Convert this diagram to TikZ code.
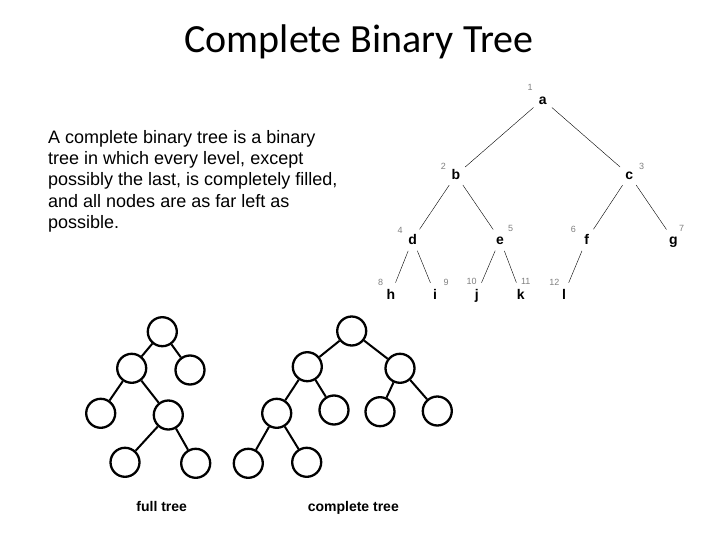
\documentclass[tikz,border=0pt]{standalone}
\usepackage{fontspec}
\setmainfont{Liberation Sans}
\newfontfamily\titlefont{Carlito}
\usepackage{tikz}

\begin{document}
\begin{tikzpicture}[x=1pt,y=-1pt,
  letter/.style={circle,inner sep=0pt,minimum size=24pt,text height=10pt,text depth=0pt,font=\fontsize{14}{14}\selectfont\bfseries},
  idx/.style={inner sep=0pt,text=gray,font=\fontsize{9}{9}\selectfont},
  ring/.style={circle,draw,line width=2.3pt,minimum size=29pt,inner sep=0pt},
  link/.style={line width=2pt}]
\useasboundingbox (0,0) rectangle (720,540);
\node[anchor=base,inner sep=0pt,font=\titlefont\fontsize{40}{40}\selectfont] (title) at (359,53) {Complete Binary Tree};
\node[anchor=north west,align=left,inner sep=0pt,font=\fontsize{18}{21.3}\selectfont] (desc) at (48,130) {A complete binary tree is a binary\\tree in which every level, except\\possibly the last, is completely filled,\\and all nodes are as far left as\\possible.};

\node[letter] (a) at (542.7,99.5) {a};
\node[letter] (b) at (456,175) {b};
\node[letter] (c) at (629.3,175) {c};
\node[letter] (d) at (412.7,239.5) {d};
\node[letter] (e) at (500,239.5) {e};
\node[letter] (f) at (586.7,239.5) {f};
\node[letter] (g) at (673.3,239.5) {g};
\node[letter] (h) at (391,294) {h};
\node[letter] (i) at (435,294) {i};
\node[letter] (j) at (476.7,294) {j};
\node[letter] (k) at (520.7,294) {k};
\node[letter] (l) at (564,294) {l};
\draw[thin] (a) -- (b);
\draw[thin] (a) -- (c);
\draw[thin] (b) -- (d);
\draw[thin] (b) -- (e);
\draw[thin] (c) -- (f);
\draw[thin] (c) -- (g);
\draw[thin] (d) -- (h);
\draw[thin] (d) -- (i);
\draw[thin] (e) -- (j);
\draw[thin] (e) -- (k);
\draw[thin] (f) -- (l);
\node[idx] (n1) at (530,87.5) {1};
\node[idx] (n2) at (443.3,166) {2};
\node[idx] (n3) at (641.7,166) {3};
\node[idx] (n4) at (400,230) {4};
\node[idx] (n5) at (510.7,228.5) {5};
\node[idx] (n6) at (573.3,229) {6};
\node[idx] (n7) at (681.7,228) {7};
\node[idx] (n8) at (380.7,282.5) {8};
\node[idx] (n9) at (446,282.5) {9};
\node[idx] (n10) at (471.7,281) {10};
\node[idx] (n11) at (525.7,281) {11};
\node[idx] (n12) at (554.3,282.5) {12};

\node[ring] (f1) at (162.3,331.7) {};
\node[ring] (f2) at (131.7,368.3) {};
\node[ring] (f3) at (190,370) {};
\node[ring] (f4) at (100.7,413.3) {};
\node[ring] (f5) at (168.3,415) {};
\node[ring] (f6) at (125,462.3) {};
\node[ring] (f7) at (195.7,463.3) {};
\draw[link] (f1) -- (f2);
\draw[link] (f1) -- (f3);
\draw[link] (f2) -- (f4);
\draw[link] (f2) -- (f5);
\draw[link] (f5) -- (f6);
\draw[link] (f5) -- (f7);
\node[anchor=base,inner sep=0pt,font=\fontsize{14}{14}\selectfont\bfseries] (fulltree) at (161.7,511) {full tree};

\node[ring] (c1) at (351.7,331) {};
\node[ring] (c2) at (307.3,366.7) {};
\node[ring] (c3) at (400,368.3) {};
\node[ring] (c4) at (276.7,413.3) {};
\node[ring] (c5) at (334,410) {};
\node[ring] (c6) at (380,411.7) {};
\node[ring] (c7) at (437.3,411) {};
\node[ring] (c8) at (248.3,463.3) {};
\node[ring] (c9) at (306.7,462.3) {};
\draw[link] (c1) -- (c2);
\draw[link] (c1) -- (c3);
\draw[link] (c2) -- (c4);
\draw[link] (c2) -- (c5);
\draw[link] (c3) -- (c6);
\draw[link] (c3) -- (c7);
\draw[link] (c4) -- (c8);
\draw[link] (c4) -- (c9);
\node[anchor=base,inner sep=0pt,font=\fontsize{14}{14}\selectfont\bfseries] (completetree) at (353.3,511) {complete tree};
\end{tikzpicture}
\end{document}
